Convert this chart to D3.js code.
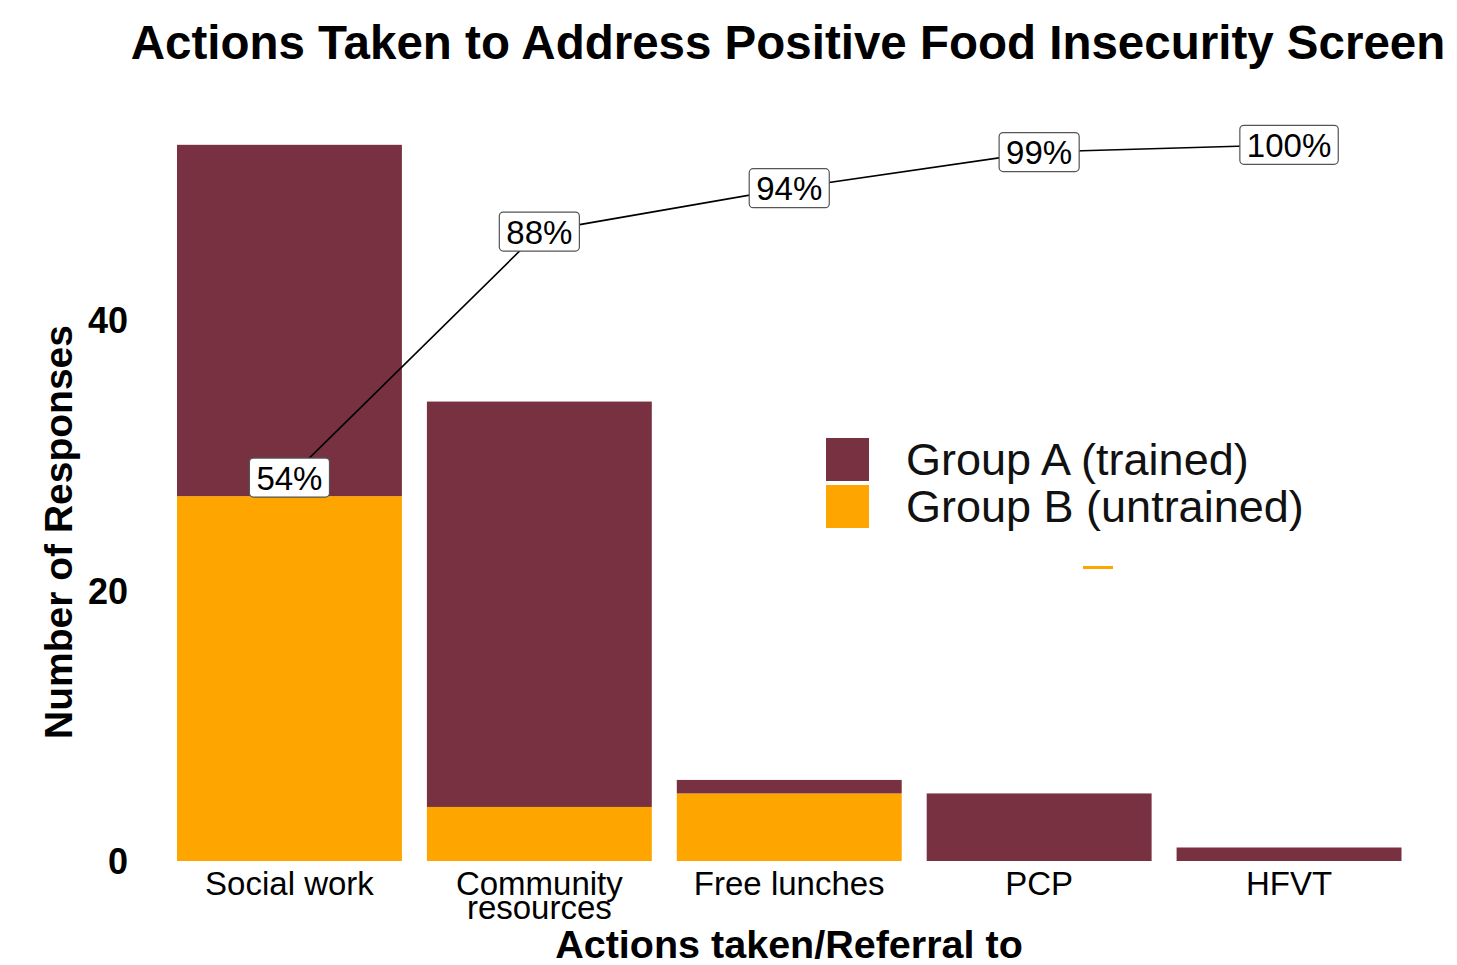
<!DOCTYPE html>
<html lang="en">
<head>
  <meta charset="UTF-8">
  <title>Actions Taken to Address Positive Food Insecurity Screen</title>
  <script src="https://cdn.jsdelivr.net/npm/d3@7"></script>
  <style>
    body { margin: 0; background: #fff; }
    svg text { font-family: 'Liberation Sans', Arial, sans-serif; }
  </style>
</head>
<body>
  <svg id="chart"></svg>
  <script>
    // data
    const categories = ['Social work', 'Community resources', 'Free lunches', 'PCP', 'HFVT']
    const tickLabels = [['Social work'], ['Community', 'resources'], ['Free lunches'], ['PCP'], ['HFVT']]
    const groupA = [26, 30, 1, 5, 1]
    const groupB = [27, 4, 5, 0, 0]
    const groupNames = ['Group A (trained)', 'Group B (untrained)']
    const yTicks = [0, 20, 40]

    const colors = { a: '#773141', b: '#ffa500' }
    const width = 1457
    const height = 965

    const svg = d3.select('#chart')
      .attr('width', width)
      .attr('height', height)

    const totals = categories.map((c, i) => groupA[i] + groupB[i])
    const grand = d3.sum(totals)
    const maxTotal = d3.max(totals)
    let run = 0
    const cum = totals.map(t => (run += t) / grand)

    const x = d3.scaleBand()
      .domain(categories)
      .range([164.5, 1414])
      .paddingInner(0.1)
      .paddingOuter(0.05)

    const y = d3.scaleLinear()
      .domain([0, maxTotal * 1.05])
      .range([861, 109])

    // stacked bars: B at the bottom, A on top
    const rows = categories.map((c, i) => ({ cat: c, a: groupA[i], b: groupB[i] }))
    const stack = d3.stack().keys(['b', 'a'])(rows)

    svg.append('g')
      .selectAll('g')
      .data(stack)
      .join('g')
      .attr('fill', d => colors[d.key])
      .selectAll('rect')
      .data(d => d.filter(s => s[1] > s[0]))
      .join('rect')
      .attr('x', d => x(d.data.cat))
      .attr('width', x.bandwidth())
      .attr('y', d => y(d[1]))
      .attr('height', d => y(d[0]) - y(d[1]))

    // cumulative line, scaled to the tallest bar
    const pts = categories.map((c, i) => ({ cat: c, v: cum[i] * maxTotal, p: cum[i] }))
    svg.append('path')
      .datum(pts)
      .attr('fill', 'none')
      .attr('stroke', '#000')
      .attr('stroke-width', 1.6)
      .attr('d', d3.line().x(d => x(d.cat) + x.bandwidth() / 2).y(d => y(d.v)))

    const lab = svg.append('g')
      .selectAll('g')
      .data(pts)
      .join('g')
      .attr('transform', d => `translate(${x(d.cat) + x.bandwidth() / 2},${y(d.v)})`)

    lab.append('text')
      .attr('text-anchor', 'middle')
      .attr('y', 12)
      .style('font-size', '33px')
      .attr('fill', '#000')
      .text(d => Math.round(d.p * 100) + '%')

    lab.each(function () {
      const g = d3.select(this)
      const w = g.select('text').node().getComputedTextLength() + 14
      g.insert('rect', 'text')
        .attr('x', -w / 2)
        .attr('y', -19.5)
        .attr('width', w)
        .attr('height', 39)
        .attr('rx', 4)
        .attr('fill', '#fff')
        .attr('stroke', '#555')
        .attr('stroke-width', 1.2)
    })

    // y axis tick labels
    svg.append('g')
      .selectAll('text')
      .data(yTicks)
      .join('text')
      .attr('x', 128)
      .attr('y', d => y(d) + 13)
      .attr('text-anchor', 'end')
      .style('font-size', '36px')
      .style('font-weight', 'bold')
      .text(d => d)

    // x axis tick labels
    svg.append('g')
      .selectAll('text')
      .data(categories)
      .join('text')
      .attr('text-anchor', 'middle')
      .attr('x', d => x(d) + x.bandwidth() / 2)
      .attr('y', 895)
      .style('font-size', '33px')
      .each(function (d, i) {
        d3.select(this).selectAll('tspan')
          .data(tickLabels[i])
          .join('tspan')
          .attr('x', x(d) + x.bandwidth() / 2)
          .attr('dy', (t, j) => j === 0 ? 0 : 24)
          .text(t => t)
      })

    // axis titles
    svg.append('text')
      .attr('transform', 'translate(72,532) rotate(-90)')
      .attr('text-anchor', 'middle')
      .style('font-size', '39px')
      .style('font-weight', 'bold')
      .text('Number of Responses')

    svg.append('text')
      .attr('x', 789)
      .attr('y', 958)
      .attr('text-anchor', 'middle')
      .style('font-size', '39.5px')
      .style('font-weight', 'bold')
      .text('Actions taken/Referral to')

    svg.append('text')
      .attr('x', 788)
      .attr('y', 59)
      .attr('text-anchor', 'middle')
      .style('font-size', '47.5px')
      .style('font-weight', 'bold')
      .text('Actions Taken to Address Positive Food Insecurity Screen')

    // legend
    const legend = svg.append('g').attr('transform', 'translate(826,438)')
    const lg = legend.selectAll('g')
      .data(groupNames)
      .join('g')
      .attr('transform', (d, i) => `translate(0,${i * 47})`)
    lg.append('rect')
      .attr('width', 43)
      .attr('height', 43)
      .attr('fill', (d, i) => i === 0 ? colors.a : colors.b)
    lg.append('text')
      .attr('x', 80)
      .attr('y', 37)
      .style('font-size', '45px')
      .attr('fill', '#111')
      .text(d => d)
    legend.append('rect')
      .attr('x', 257)
      .attr('y', 128)
      .attr('width', 30)
      .attr('height', 3)
      .attr('fill', colors.b)
  </script>
</body>
</html>
